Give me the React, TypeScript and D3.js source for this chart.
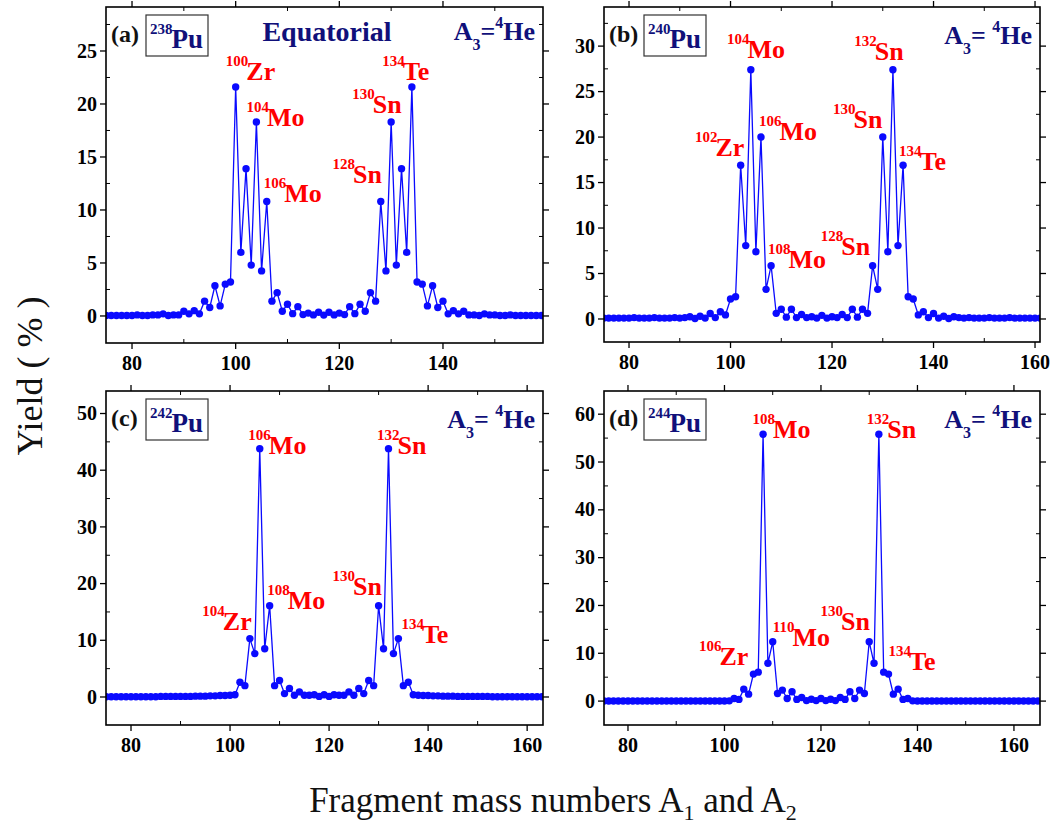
import React from 'react';
import * as d3 from 'd3';

const startMass = 75;

// (a) 238Pu, A = 75..159
const yieldA = [
  0.05, 0.05, 0.05, 0.05, 0.05, 0.05, 0.1, 0.05, 0.05, 0.1,
  0.1, 0.2, 0.05, 0.1, 0.1, 0.45, 0.2, 0.5, 0.2, 1.4,
  0.8, 2.85, 0.95, 3.0, 3.2, 21.6, 6.0, 13.9, 4.8, 18.3,
  4.25, 10.8, 1.4, 2.2, 0.45, 1.1, 0.22, 0.88, 0.13, 0.27,
  0.1, 0.35, 0.08,
  0.35, 0.1, 0.27, 0.13, 0.88, 0.22, 1.1, 0.45, 2.2, 1.4,
  10.8, 4.25, 18.3, 4.8, 13.9, 6.0, 21.6, 3.2, 3.0, 0.95,
  2.85, 0.8, 1.4, 0.2, 0.5, 0.2, 0.45, 0.1, 0.1, 0.05,
  0.2, 0.1, 0.1, 0.05, 0.05, 0.1, 0.05, 0.05, 0.05, 0.05,
  0.05, 0.05,
];

// (b) 240Pu, A = 75..161
const yieldB = [
  0.1, 0.1, 0.1, 0.1, 0.1, 0.1, 0.15, 0.1, 0.1, 0.1,
  0.15, 0.1, 0.1, 0.1, 0.15, 0.1, 0.15, 0.25, 0.05, 0.3,
  0.1, 0.6, 0.15, 0.8, 0.45, 2.2, 2.45, 16.9, 8.07, 27.4,
  7.4, 20.0, 3.26, 5.86, 0.62, 1.07, 0.2, 1.07, 0.15, 0.5,
  0.15, 0.25, 0.1, 0.4,
  0.1, 0.25, 0.15, 0.5, 0.15, 1.07, 0.2, 1.07, 0.62, 5.86,
  3.26, 20.0, 7.4, 27.4, 8.07, 16.9, 2.45, 2.2, 0.45, 0.8,
  0.15, 0.6, 0.1, 0.3, 0.05, 0.25, 0.15, 0.1, 0.15, 0.1,
  0.1, 0.1, 0.15, 0.1, 0.1, 0.1, 0.15, 0.1, 0.1, 0.1,
  0.1, 0.1, 0.1,
];

// (c) 242Pu, A = 75..163
const yieldC = [
  0.05, 0.05, 0.05, 0.05, 0.05, 0.05, 0.05, 0.05, 0.05, 0.05,
  0.05, 0.1, 0.1, 0.1, 0.1, 0.1, 0.1, 0.1, 0.15, 0.15,
  0.15, 0.2, 0.2, 0.25, 0.25, 0.3, 0.4, 2.6, 2.0, 10.3,
  7.65, 43.8, 8.5, 16.1, 2.0, 2.9, 0.6, 1.5, 0.3, 0.9,
  0.3, 0.3, 0.4, 0.1, 0.4,
  0.1, 0.4, 0.3, 0.3, 0.9, 0.3, 1.5, 0.6, 2.9, 2.0,
  16.1, 8.5, 43.8, 7.65, 10.3, 2.0, 2.6, 0.4, 0.3, 0.25,
  0.25, 0.2, 0.2, 0.15, 0.15, 0.15, 0.1, 0.1, 0.1, 0.1,
  0.1, 0.1, 0.1, 0.05, 0.05, 0.05, 0.05, 0.05, 0.05, 0.05,
  0.05, 0.05, 0.05, 0.05,
];

// (d) 244Pu, A = 75..165
const yieldD = [
  0.02, 0.02, 0.02, 0.02, 0.02, 0.02, 0.02, 0.02, 0.02, 0.02,
  0.02, 0.02, 0.02, 0.02, 0.02, 0.02, 0.02, 0.02, 0.02, 0.02,
  0.02, 0.02, 0.02, 0.02, 0.02, 0.02, 0.05, 0.55, 0.35, 2.5,
  1.45, 5.65, 6.05, 55.8, 7.9, 12.4, 1.6, 2.3, 0.55, 1.95,
  0.35, 0.75, 0.1, 0.4, 0.1, 0.55,
  0.1, 0.4, 0.1, 0.75, 0.35, 1.95, 0.55, 2.3, 1.6, 12.4,
  7.9, 55.8, 6.05, 5.65, 1.45, 2.5, 0.35, 0.55, 0.05, 0.02,
  0.02, 0.02, 0.02, 0.02, 0.02, 0.02, 0.02, 0.02, 0.02, 0.02,
  0.02, 0.02, 0.02, 0.02, 0.02, 0.02, 0.02, 0.02, 0.02, 0.02,
  0.02, 0.02, 0.02, 0.02, 0.02,
];

const xTicks = [80, 100, 120, 140, 160];
const yTicksA = [0, 5, 10, 15, 20, 25];
const yTicksB = [0, 5, 10, 15, 20, 25, 30];
const yTicksC = [0, 10, 20, 30, 40, 50];
const yTicksD = [0, 10, 20, 30, 40, 50, 60];

const labelsA = [
  { sup: '100', el: 'Zr', x: 98.1, y: 22.3 },
  { sup: '104', el: 'Mo', x: 102.1, y: 17.9 },
  { sup: '106', el: 'Mo', x: 105.4, y: 10.75 },
  { sup: '128', el: 'Sn', x: 118.7, y: 12.5 },
  { sup: '130', el: 'Sn', x: 122.5, y: 19.15 },
  { sup: '134', el: 'Te', x: 128.3, y: 22.3 },
];
const labelsB = [
  { sup: '104', el: 'Mo', x: 99.3, y: 28.7 },
  { sup: '132', el: 'Sn', x: 124.4, y: 28.5 },
  { sup: '102', el: 'Zr', x: 93.0, y: 17.9 },
  { sup: '106', el: 'Mo', x: 105.6, y: 19.7 },
  { sup: '130', el: 'Sn', x: 120.2, y: 21.0 },
  { sup: '134', el: 'Te', x: 133.2, y: 16.4 },
  { sup: '108', el: 'Mo', x: 107.4, y: 5.6 },
  { sup: '128', el: 'Sn', x: 117.8, y: 7.0 },
];
const labelsC = [
  { sup: '106', el: 'Mo', x: 103.7, y: 42.9 },
  { sup: '132', el: 'Sn', x: 129.7, y: 42.9 },
  { sup: '108', el: 'Mo', x: 107.5, y: 15.5 },
  { sup: '130', el: 'Sn', x: 120.7, y: 18.0 },
  { sup: '104', el: 'Zr', x: 94.4, y: 11.8 },
  { sup: '134', el: 'Te', x: 134.6, y: 9.5 },
];
const labelsD = [
  { sup: '108', el: 'Mo', x: 105.8, y: 55.0 },
  { sup: '132', el: 'Sn', x: 129.5, y: 55.0 },
  { sup: '110', el: 'Mo', x: 110.0, y: 11.5 },
  { sup: '130', el: 'Sn', x: 119.9, y: 14.85 },
  { sup: '106', el: 'Zr', x: 94.7, y: 7.5 },
  { sup: '134', el: 'Te', x: 134.0, y: 6.5 },
];

const SERIF = '"Liberation Serif", "Times New Roman", Times, serif';
const NAVY = '#10107a';
const RED = '#ff0000';
const BLUE = '#0a0aff';

const panels = [
  { tag: '(a)', nucleus: '238', values: yieldA, labels: labelsA, yTicks: yTicksA, yMinor: 2.5,
    xDomain: [74.98, 159.3], yDomain: [-2.55, 29.15], box: [106, 7, 543, 343], title: 'Equatorial', spaced: false },
  { tag: '(b)', nucleus: '240', values: yieldB, labels: labelsB, yTicks: yTicksB, yMinor: 2.5,
    xDomain: [75.07, 160.98], yDomain: [-2.53, 34.3], box: [604, 7, 1040, 342], title: '', spaced: true },
  { tag: '(c)', nucleus: '242', values: yieldC, labels: labelsC, yTicks: yTicksC, yMinor: 5,
    xDomain: [74.95, 163.2], yDomain: [-4.94, 53.97], box: [106, 391, 543, 725], title: '', spaced: true },
  { tag: '(d)', nucleus: '244', values: yieldD, labels: labelsD, yTicks: yTicksD, yMinor: 5,
    xDomain: [75.03, 165.4], yDomain: [-5.0, 64.85], box: [604, 391, 1040, 725], title: '', spaced: true },
];

function Panel({ p, idx }: { p: any; idx: number }) {
  const [x0, y0, x1, y1] = p.box;
  const x = d3.scaleLinear().domain(p.xDomain).range([x0, x1]);
  const y = d3.scaleLinear().domain(p.yDomain).range([y1, y0]);
  const pts = p.values.map((v: number, i: number) => [startMass + i, v] as [number, number]);
  const line = d3.line<[number, number]>().x(d => x(d[0])).y(d => y(d[1]));
  const xt = xTicks.filter(t => t >= p.xDomain[0] && t <= p.xDomain[1]);
  const xMinor = d3.range(70, 170, 10).filter(t => !xTicks.includes(t) && t > p.xDomain[0] && t < p.xDomain[1]);
  const yMinor = d3.range(0, p.yDomain[1], p.yMinor).filter(t => !p.yTicks.includes(t));
  const clipId = `clip${idx}`;
  const major = 6, minor = 4;
  return (
    <g>
      <defs>
        <clipPath id={clipId}>
          <rect x={x0} y={y0} width={x1 - x0} height={y1 - y0} />
        </clipPath>
      </defs>
      {xt.map(t => (
        <g key={'xt' + t}>
          <line x1={x(t)} x2={x(t)} y1={y1} y2={y1 + major} stroke="#000" strokeWidth={1.3} />
          <line x1={x(t)} x2={x(t)} y1={y0} y2={y0 - major} stroke="#000" strokeWidth={1.3} />
          <text x={x(t)} y={y1 + 27} textAnchor="middle" fontFamily={SERIF} fontWeight="bold" fontSize={20}>{t}</text>
        </g>
      ))}
      {xMinor.map(t => (
        <g key={'xm' + t}>
          <line x1={x(t)} x2={x(t)} y1={y1} y2={y1 - minor} stroke="#000" strokeWidth={1} />
          <line x1={x(t)} x2={x(t)} y1={y0} y2={y0 + minor} stroke="#000" strokeWidth={1} />
        </g>
      ))}
      {p.yTicks.map((t: number) => (
        <g key={'yt' + t}>
          <line x1={x0} x2={x0 - major} y1={y(t)} y2={y(t)} stroke="#000" strokeWidth={1.3} />
          <line x1={x1} x2={x1 + major} y1={y(t)} y2={y(t)} stroke="#000" strokeWidth={1.3} />
          <text x={x0 - 9} y={y(t)} dy="0.33em" textAnchor="end" fontFamily={SERIF} fontWeight="bold" fontSize={20}>{t}</text>
        </g>
      ))}
      {yMinor.map((t: number) => (
        <g key={'ym' + t}>
          <line x1={x0} x2={x0 + minor} y1={y(t)} y2={y(t)} stroke="#000" strokeWidth={1} />
          <line x1={x1} x2={x1 - minor} y1={y(t)} y2={y(t)} stroke="#000" strokeWidth={1} />
        </g>
      ))}
      <g clipPath={`url(#${clipId})`}>
        <path d={line(pts) || ''} fill="none" stroke={BLUE} strokeWidth={1.3} />
        {pts.map((d: [number, number], i: number) => (
          <circle key={i} cx={x(d[0])} cy={y(d[1])} r={3.7} fill={BLUE} />
        ))}
      </g>
      <rect x={x0} y={y0} width={x1 - x0} height={y1 - y0} fill="none" stroke="#000" strokeWidth={1.6} />
      <text x={x0 + 5} y={y0 + 35} fontFamily={SERIF} fontWeight="bold" fontSize={24} fill="#111">{p.tag}</text>
      <rect x={x0 + 40} y={y0 + 8} width={62} height={41} fill="none" stroke="#333" strokeWidth={1.2} />
      <text x={x0 + 44} y={y0 + 41} fontFamily={SERIF} fontWeight="bold" fill={NAVY}>
        <tspan fontSize={15} dy={-14}>{p.nucleus}</tspan>
        <tspan fontSize={27} dy={14} dx={-1}>Pu</tspan>
      </text>
      {p.title && (
        <text x={x0 + 221} y={y0 + 34} textAnchor="middle" fontFamily={SERIF} fontWeight="bold" fontSize={28} fill={NAVY}>{p.title}</text>
      )}
      <text x={x1 - 8} y={y0 + (p.spaced ? 37 : 33)} textAnchor="end" fontFamily={SERIF} fontWeight="bold" fill={NAVY}>
        <tspan fontSize={26}>A</tspan>
        <tspan fontSize={16} dy={10}>3</tspan>
        <tspan fontSize={26} dy={-10}>{p.spaced ? '= ' : '='}</tspan>
        <tspan fontSize={16} dy={-12}>4</tspan>
        <tspan fontSize={26} dy={12}>He</tspan>
      </text>
      {p.labels.map((l: any, i: number) => (
        <text key={'l' + i} x={x(l.x)} y={y(l.y)} fontFamily={SERIF} fontWeight="bold" fill={RED}>
          <tspan fontSize={15} dy={-14}>{l.sup}</tspan>
          <tspan fontSize={26} dy={14} dx={-2}>{l.el}</tspan>
        </text>
      ))}
    </g>
  );
}

export default function App() {
  return (
    <svg width={1053} height={833} style={{ position: 'absolute', left: 0, top: 0, background: '#fff' }}>
      <rect width={1053} height={833} fill="#fff" />
      {panels.map((p, i) => <Panel key={i} p={p} idx={i} />)}
      <text transform="translate(42,376) rotate(-90)" textAnchor="middle" fontFamily={SERIF} fontSize={36} fill="#111">Yield ( % )</text>
      <text x={553} y={812} textAnchor="middle" fontFamily={SERIF} fontSize={35} fill="#111">
        <tspan>Fragment mass numbers A</tspan>
        <tspan fontSize={22} dy={8}>1</tspan>
        <tspan dy={-8}> and A</tspan>
        <tspan fontSize={22} dy={8}>2</tspan>
      </text>
    </svg>
  );
}
